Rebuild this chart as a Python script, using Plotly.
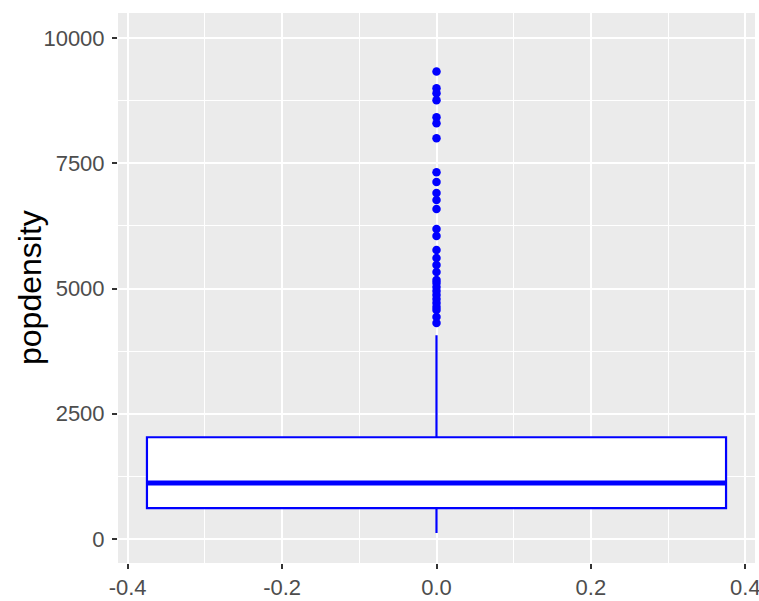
import plotly.graph_objects as go

# Box summary for popdensity
box_x = [0]
q1 = [615]
median = [1118]
q3 = [2030]
lower_whisker = [120]
upper_whisker = [4065]
box_width = 0.75

# Outlying points above the upper whisker
outliers = [9330, 9000, 8900, 8760, 8420, 8300, 8000,
            7320, 7125, 6905, 6765, 6585, 6190, 6050,
            5770, 5610, 5470, 5330, 5170, 5110, 5030, 4950,
            4870, 4790, 4710, 4630, 4570, 4430, 4310]

x_ticks = [-0.4, -0.2, 0.0, 0.2, 0.4]
x_tick_labels = ['-0.4', '-0.2', '0.0', '0.2', '0.4']
y_ticks = [0, 2500, 5000, 7500, 10000]
y_tick_labels = ['0', '2500', '5000', '7500', '10000']

BLUE = '#0000FF'

fig = go.Figure()

fig.add_trace(go.Box(
    x=box_x,
    q1=q1, median=median, q3=q3,
    lowerfence=lower_whisker, upperfence=upper_whisker,
    width=box_width,
    whiskerwidth=0,
    fillcolor='white',
    line=dict(color=BLUE, width=2.2),
    boxpoints=False,
    hoverinfo='skip',
    showlegend=False
))

# ggplot draws the median thicker than the box outline
fig.add_trace(go.Scatter(
    x=[box_x[0] - box_width / 2, box_x[0] + box_width / 2],
    y=[median[0], median[0]],
    mode='lines',
    line=dict(color=BLUE, width=5),
    hoverinfo='skip',
    showlegend=False
))

fig.add_trace(go.Scatter(
    x=[box_x[0]] * len(outliers),
    y=outliers,
    mode='markers',
    marker=dict(color=BLUE, size=8.5),
    hoverinfo='skip',
    showlegend=False
))

fig.update_layout(
    width=759,
    height=601,
    margin=dict(l=118, r=4, t=13, b=38),
    paper_bgcolor='white',
    plot_bgcolor='#EBEBEB',
    font=dict(family='Liberation Sans, Arial, sans-serif', color='#4D4D4D', size=22),
    showlegend=False
)

fig.update_xaxes(
    range=[-0.4125, 0.4125],
    tickvals=x_ticks,
    ticktext=x_tick_labels,
    ticks='outside', ticklen=5, tickwidth=1.5, tickcolor='#333333',
    tickfont=dict(size=22, color='#4D4D4D'),
    ticklabelstandoff=0,
    ticklabeloverflow='allow',
    showgrid=True, gridcolor='white', gridwidth=1.8,
    minor=dict(dtick=0.1, tick0=-0.3, showgrid=True, gridcolor='white', gridwidth=0.9, ticks=''),
    zeroline=False,
    showline=False,
    automargin=False
)

fig.update_yaxes(
    range=[-480, 10500],
    tickvals=y_ticks,
    ticktext=y_tick_labels,
    ticks='outside', ticklen=5, tickwidth=1.5, tickcolor='#333333',
    tickfont=dict(size=22, color='#4D4D4D'),
    ticklabelstandoff=3,
    showgrid=True, gridcolor='white', gridwidth=1.8,
    minor=dict(dtick=1250, tick0=1250, showgrid=True, gridcolor='white', gridwidth=0.9, ticks=''),
    zeroline=False,
    showline=False,
    automargin=False
)

# y axis title placed as an annotation so it can sit closer to the tick labels
fig.add_annotation(
    text='popdensity',
    textangle=-90,
    xref='paper', yref='paper',
    x=-88 / 637, y=0.5,
    xanchor='center', yanchor='middle',
    showarrow=False,
    font=dict(size=32, color='black')
)

# drop the page's default body margin so the figure sits at the window origin
fig.write_html(
    "out.html",
    config={'displayModeBar': False},
    post_script="document.body.style.margin='0px';"
)
